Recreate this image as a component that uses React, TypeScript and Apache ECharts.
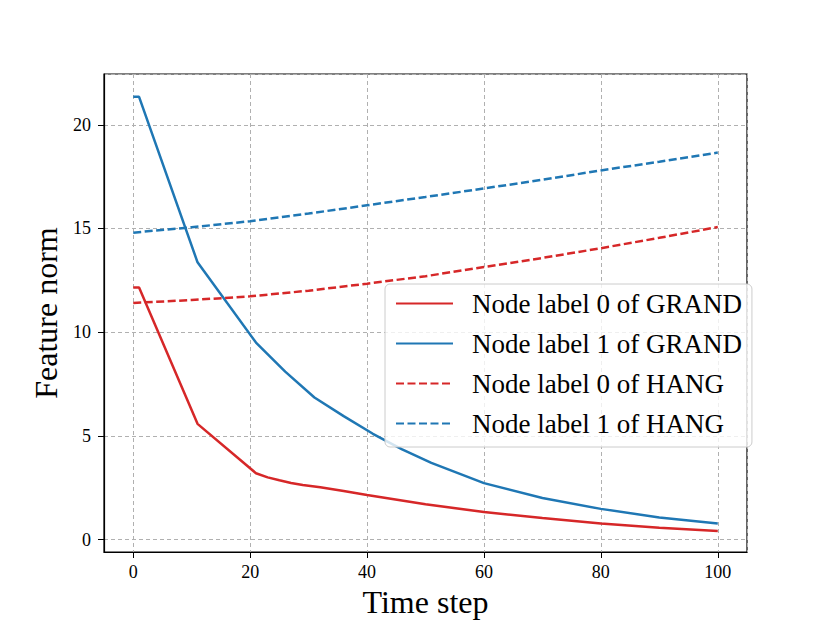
import React, { useEffect, useRef } from "react";
import * as echarts from "echarts";

const seriesNames = [
  "Node label 0 of GRAND",
  "Node label 1 of GRAND",
  "Node label 0 of HANG",
  "Node label 1 of HANG",
];

const grand0X = [0, 1, 11, 21, 23, 25, 27, 29, 32, 36, 40, 50, 60, 70, 80, 90, 100];
const grand0Y = [12.15, 12.15, 5.58, 3.2, 3.0, 2.86, 2.73, 2.63, 2.52, 2.34, 2.15, 1.7, 1.33, 1.04, 0.77, 0.57, 0.41];

const grand1X = [0, 1, 11, 21, 26, 31, 36, 41, 46, 51, 60, 70, 80, 90, 100];
const grand1Y = [21.35, 21.35, 13.37, 9.5, 8.1, 6.85, 5.95, 5.1, 4.35, 3.7, 2.72, 2.0, 1.48, 1.06, 0.77];

const hangX = [0, 10, 20, 30, 40, 50, 60, 70, 80, 90, 100];
const hang0Y = [11.41, 11.55, 11.73, 12.0, 12.34, 12.7, 13.14, 13.58, 14.05, 14.55, 15.07];
const hang1Y = [14.8, 15.06, 15.35, 15.72, 16.12, 16.52, 16.93, 17.35, 17.8, 18.22, 18.66];

const RED = "#d62728";
const BLUE = "#1f77b4";
const FONT = "Liberation Serif";

const zip = (xs: number[], ys: number[]) => xs.map((x, i) => [x, ys[i]]);

export default function App() {
  const ref = useRef<HTMLDivElement>(null);
  useEffect(() => {
    if (!ref.current) return;
    const chart = echarts.init(ref.current, undefined, { renderer: "svg" });
    const mk = (name: string, data: number[][], color: string, dashed: boolean) => ({
      name,
      type: "line",
      data,
      symbol: "none",
      showSymbol: false,
      legendIcon: "path://M0,0 L1,0",
      lineStyle: { color, width: 2.5, type: dashed ? [8, 3.5] : "solid" },
      itemStyle: { color },
      z: 3,
    });
    chart.setOption({
      animation: false,
      backgroundColor: "#ffffff",
      textStyle: { fontFamily: FONT },
      grid: {
        left: 104,
        right: 83,
        top: 74,
        bottom: 70,
        show: true,
        borderColor: "#000",
        borderWidth: 1.2,
        backgroundColor: "#fff",
      },
      xAxis: {
        type: "value",
        min: -5,
        max: 105,
        name: "Time step",
        nameLocation: "middle",
        nameGap: 34,
        nameTextStyle: { fontSize: 32, color: "#000", fontFamily: FONT },
        axisLine: { show: true, onZero: false, lineStyle: { color: "#000", width: 1.2 } },
        axisTick: { show: true, length: 6, lineStyle: { color: "#000", width: 1 } },
        axisLabel: {
          showMinLabel: false,
          showMaxLabel: false,
          fontSize: 18,
          color: "#000",
          margin: 11,
          fontFamily: FONT,
        },
        splitLine: { show: true, lineStyle: { color: "#b0b0b0", width: 1, type: [4, 3] } },
      },
      yAxis: {
        type: "value",
        min: -0.6,
        max: 22.45,
        name: "Feature norm",
        nameLocation: "middle",
        nameGap: 40,
        nameTextStyle: { fontSize: 32, color: "#000", fontFamily: FONT },
        axisLine: { show: true, onZero: false, lineStyle: { color: "#000", width: 1.2 } },
        axisTick: { show: true, length: 6, lineStyle: { color: "#000", width: 1 } },
        axisLabel: {
          showMinLabel: false,
          showMaxLabel: false,
          fontSize: 18,
          color: "#000",
          margin: 13,
          fontFamily: FONT,
        },
        splitLine: { show: true, lineStyle: { color: "#b0b0b0", width: 1, type: [4, 3] } },
      },
      legend: {
        data: seriesNames,
        orient: "vertical",
        left: 385,
        top: 284,
        itemWidth: 57,
        itemHeight: 14,
        itemGap: 13,
        padding: [6, 10, 10, 10],
        backgroundColor: "rgba(255,255,255,0.8)",
        borderColor: "#cccccc",
        borderWidth: 1,
        borderRadius: 5,
        itemStyle: { opacity: 0 },
        lineStyle: { opacity: 1 },
        textStyle: {
          fontSize: 27,
          color: "#000",
          fontFamily: FONT,
          lineHeight: 26,
          padding: [0, 0, 0, 14],
        },
        z: 10,
      },
      series: [
        mk(seriesNames[0], zip(grand0X, grand0Y), RED, false),
        mk(seriesNames[1], zip(grand1X, grand1Y), BLUE, false),
        mk(seriesNames[2], zip(hangX, hang0Y), RED, true),
        mk(seriesNames[3], zip(hangX, hang1Y), BLUE, true),
      ],
    });
    return () => chart.dispose();
  }, []);
  return (
    <div
      ref={ref}
      style={{ position: "fixed", left: 0, top: 0, width: 830, height: 623 }}
    />
  );
}
